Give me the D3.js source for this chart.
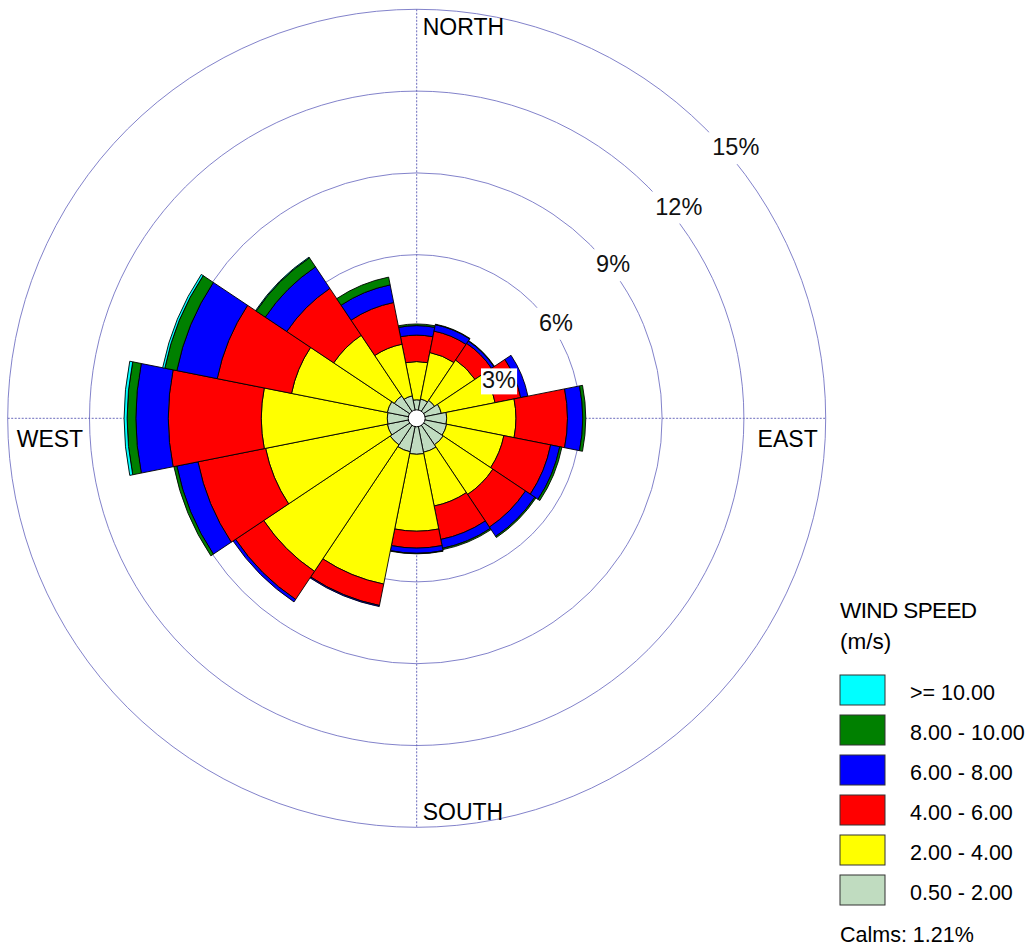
<!DOCTYPE html>
<html>
<head>
<meta charset="utf-8">
<script src="https://cdn.jsdelivr.net/npm/d3@7"></script>
<style>
  html, body { margin: 0; padding: 0; background: #fff; }
  svg { display: block; font-family: "Liberation Sans", Arial, sans-serif; }
</style>
</head>
<body>
<svg id="chart" width="1034" height="952"></svg>
<script>
// ---------------- data ----------------
const directions = ["N","NNE","NE","ENE","E","ESE","SE","SSE","S","SSW","SW","WSW","W","WNW","NW","NNW"];
const directionLabels = ["NORTH", "EAST", "SOUTH", "WEST"];
const ringTicks = [3, 6, 9, 12, 15];
const speedClasses = ["0.50 - 2.00", "2.00 - 4.00", "4.00 - 6.00", "6.00 - 8.00", "8.00 - 10.00", ">= 10.00"];
const speedColors = ["#c0dcc0", "#ffff00", "#ff0000", "#0000ff", "#008000", "#00ffff"];
// frequency (%) per direction for each speed class
const s0520  = [0.68,0.72,0.79,0.92,1.10,1.12,1.17,1.27,1.32,1.25,1.17,1.10,1.08,1.10,0.99,0.84];
const s2040  = [1.40,1.74,1.78,2.01,2.54,2.14,2.19,2.01,2.82,4.95,5.58,4.55,4.62,3.58,2.67,1.93];
const s4060  = [0.97,0.80,0.73,0.96,1.89,1.75,1.44,1.25,0.62,0.80,1.24,2.53,3.41,2.78,2.07,1.56];
const s6080  = [0.35,0.24,0.11,0.27,0.56,0.34,0.41,0.33,0.19,0.04,0.11,0.79,1.19,1.51,0.95,0.66];
const s80100 = [0.06,0.02,0.02,0.00,0.11,0.08,0.05,0.05,0.02,0.00,0.00,0.11,0.32,0.45,0.40,0.29];
const s100   = [0.00,0.00,0.00,0.00,0.00,0.00,0.00,0.00,0.00,0.00,0.00,0.00,0.11,0.08,0.03,0.00];
const calms = 1.21;
const legendTitle = ["WIND SPEED", "(m/s)"];

// ---------------- layout ----------------
const svg = d3.select("#chart");
const cx = 416.7, cy = 418.3, R = 409;
const r = d3.scaleLinear().domain([0, 15]).range([0, R]);
const series = [s0520, s2040, s4060, s6080, s80100, s100];
const ringColor = "#7474c4";
const axisColor = "#5a5ab4";

const g = svg.append("g").attr("transform", `translate(${cx},${cy})`);

// rings
g.selectAll("circle.ring").data(ringTicks).join("circle")
  .attr("class", "ring").attr("r", d => r(d))
  .attr("fill", "none").attr("stroke", ringColor).attr("stroke-width", 0.9);

// axes (dotted)
g.append("line").attr("x1", 0).attr("x2", 0).attr("y1", -R).attr("y2", R)
  .attr("stroke", axisColor).attr("stroke-width", 0.9).attr("stroke-dasharray", "2,1.5");
g.append("line").attr("x1", -R).attr("x2", R).attr("y1", 0).attr("y2", 0)
  .attr("stroke", axisColor).attr("stroke-width", 0.9).attr("stroke-dasharray", "2,1.5");

// wedges
const step = 2 * Math.PI / directions.length;
const arc = d3.arc();
const wedges = [];
directions.forEach((d, i) => {
  let cum = 0;
  series.forEach((s, k) => {
    const v = s[i];
    if (v > 0) {
      wedges.push({dir: d, k, inner: cum, outer: cum + v, i});
    }
    cum += v;
  });
});
g.selectAll("path.wedge").data(wedges).join("path")
  .attr("class", "wedge")
  .attr("d", w => arc({
    innerRadius: r(w.inner), outerRadius: r(w.outer),
    startAngle: w.i * step - step / 2, endAngle: w.i * step + step / 2
  }))
  .attr("fill", w => speedColors[w.k])
  .attr("stroke", "#000").attr("stroke-width", 0.9).attr("stroke-linejoin", "round");

// center calm circle
g.append("circle").attr("r", 8.5).attr("fill", "#fff").attr("stroke", "#000").attr("stroke-width", 1);

// ring labels with white background
const labelAngles = {3: 65, 6: 55.4, 9: 51.8, 12: 51, 15: 49.6};
const labelOffsets = {3: 9, 6: 5.5, 9: 4.5, 12: 10, 15: 10};
ringTicks.forEach(t => {
  const a = labelAngles[t] * Math.PI / 180;
  const rr = r(t) + labelOffsets[t];
  const x = rr * Math.sin(a), y = -rr * Math.cos(a);
  const lbl = g.append("g").attr("transform", `translate(${x},${y})`);
  const txt = lbl.append("text").text(t + "%")
    .attr("text-anchor", "middle").attr("dy", "0.36em")
    .attr("font-size", 23.5).attr("fill", "#111");
  const bb = txt.node().getBBox();
  const pad = t === 3 ? 1 : 4;
  lbl.insert("rect", "text")
    .attr("x", bb.x - pad).attr("y", bb.y + 1 - (pad - 1)).attr("width", bb.width + 2 * pad)
    .attr("height", bb.height + 2 * (pad - 1))
    .attr("fill", "#fff");
});

// direction labels
const fsDir = 23;
g.append("text").text(directionLabels[0]).attr("x", 6).attr("y", -R + 26)
  .attr("font-size", fsDir).attr("fill", "#000");
g.append("text").text(directionLabels[1]).attr("x", R - 8).attr("y", 29)
  .attr("text-anchor", "end").attr("font-size", fsDir).attr("fill", "#000");
g.append("text").text(directionLabels[2]).attr("x", 6).attr("y", R - 7)
  .attr("font-size", fsDir).attr("fill", "#000");
g.append("text").text(directionLabels[3]).attr("x", -R + 9).attr("y", 29)
  .attr("font-size", fsDir).attr("fill", "#000");

// legend
const lx = 840;
svg.append("text").text(legendTitle[0]).attr("x", lx).attr("y", 618)
  .attr("font-size", 22.5).attr("letter-spacing", -0.6).attr("fill", "#000");
svg.append("text").text(legendTitle[1]).attr("x", lx).attr("y", 649)
  .attr("font-size", 22.5).attr("fill", "#000");
const legendOrder = d3.range(speedClasses.length).reverse();
const ly = d3.scalePoint().domain(legendOrder).range([675, 875]);
const leg = svg.selectAll("g.leg").data(legendOrder).join("g").attr("class", "leg")
  .attr("transform", k => `translate(${lx},${ly(k)})`);
leg.append("rect").attr("width", 45).attr("height", 30)
  .attr("fill", k => speedColors[k]).attr("stroke", "#333").attr("stroke-width", 1);
leg.append("text").text(k => speedClasses[k]).attr("x", 70).attr("y", 25)
  .attr("font-size", 21.5).attr("fill", "#000");
svg.append("text").text(`Calms: ${calms.toFixed(2)}%`).attr("x", lx).attr("y", 942)
  .attr("font-size", 21.5).attr("fill", "#000");
</script>
</body>
</html>
